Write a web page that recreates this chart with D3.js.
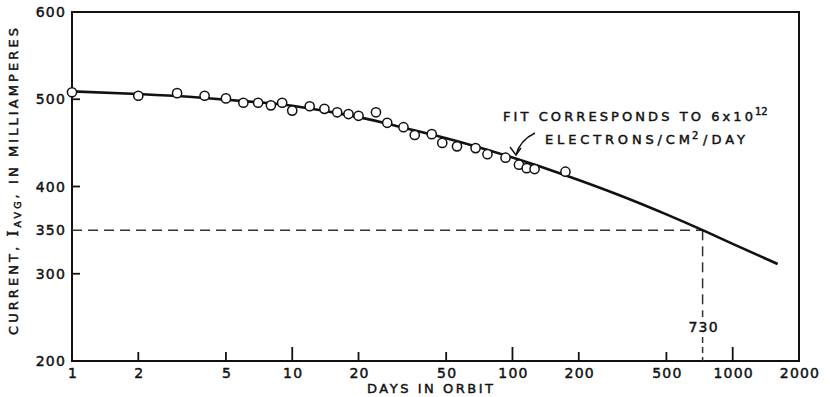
<!DOCTYPE html>
<html>
<head>
<meta charset="utf-8">
<script src="https://cdn.jsdelivr.net/npm/d3@7"></script>
<style>
  html, body { margin: 0; padding: 0; background: #fff; }
  svg { display: block; }
  text { font-family: "DejaVu Sans", sans-serif; fill: #111; stroke: #111; stroke-width: 0.45px; }
</style>
</head>
<body>
<svg id="chart" width="830" height="397"></svg>
<script>
// ---- data ----
const obsDays   = [1,2,3,4,5,6,7,8,9,10,12,14,16,18,20,24,27,32,36,43,48,56,68,77,93,107,116,126,174];
const obsValues = [508,504,507,504,501,496,496,493,496,487,492,489,485,483,481,485,473,468,459,460,450,446,444,437,433,425,421,420,417];
const fitDays   = [1,2,4,7,10,20,30,50,100,175,300,500,730,1000,1600];
const fitValues = [509,506,501.5,496.5,492.5,479.5,469,455.3,433.2,412.7,390.9,368.1,350,334.3,311.2];
const xTickValues = [1,2,5,10,20,50,100,200,500,1000,2000];
const xTickLabels = ["1","2","5","10","20","50","100","200","500","1000","2000"];
const majorX = [10,100,1000];
const yTickValues = [200,300,350,400,500,600];
const yTickLabels = ["200","300","350","400","500","600"];
const markDay = 730, markValue = 350;

const svg = d3.select("#chart");
const x = d3.scaleLog().domain([1, 2000]).range([72, 799]);
const y = d3.scaleLinear().domain([200, 600]).range([361, 12]);

const ink = "#111";

// frame
svg.append("path")
  .attr("d", `M${x(1)},${y(600)} V${y(200)} H${x(2000)} V${y(600)} Z`)
  .attr("fill", "none").attr("stroke", ink).attr("stroke-width", 2);

// x ticks (inward)
svg.append("g").selectAll("line").data(xTickValues.filter(d => d > 1 && d < 2000)).join("line")
  .attr("x1", d => x(d)).attr("x2", d => x(d))
  .attr("y1", y(200)).attr("y2", d => y(200) - (majorX.includes(d) ? 14 : 9))
  .attr("stroke", ink).attr("stroke-width", 1.8);

// y ticks (inward)
svg.append("g").selectAll("line").data([300, 400, 500]).join("line")
  .attr("x1", x(1)).attr("x2", x(1) + 8)
  .attr("y1", d => y(d)).attr("y2", d => y(d))
  .attr("stroke", ink).attr("stroke-width", 1.8);

// x tick labels
svg.append("g").selectAll("text").data(xTickValues).join("text")
  .attr("x", d => x(d) + 1).attr("y", 378)
  .attr("text-anchor", "middle")
  .attr("font-size", 14).attr("letter-spacing", 1.2)
  .text((d, i) => xTickLabels[i]);

// y tick labels
svg.append("g").selectAll("text").data(yTickValues).join("text")
  .attr("x", 66).attr("y", d => y(d) + 5)
  .attr("text-anchor", "end")
  .attr("font-size", 14).attr("letter-spacing", 1.2)
  .text((d, i) => yTickLabels[i]);

// dashed reference lines
const dash = "10,6";
svg.append("line")
  .attr("x1", x(1)).attr("x2", x(markDay))
  .attr("y1", y(markValue)).attr("y2", y(markValue))
  .attr("stroke", "#333").attr("stroke-width", 1.5).attr("stroke-dasharray", dash);
svg.append("line")
  .attr("x1", x(markDay)).attr("x2", x(markDay))
  .attr("y1", y(markValue)).attr("y2", 317)
  .attr("stroke", "#333").attr("stroke-width", 1.5).attr("stroke-dasharray", dash);
svg.append("line")
  .attr("x1", x(markDay)).attr("x2", x(markDay))
  .attr("y1", 337).attr("y2", y(200))
  .attr("stroke", "#333").attr("stroke-width", 1.5).attr("stroke-dasharray", "6,4");
svg.append("text")
  .attr("x", x(markDay) + 1).attr("y", 332)
  .attr("text-anchor", "middle")
  .attr("font-size", 14).attr("letter-spacing", 1.2)
  .text(String(markDay));

// fit curve
const line = d3.line().x(d => x(d[0])).y(d => y(d[1])).curve(d3.curveNatural);
svg.append("path")
  .datum(fitDays.map((d, i) => [d, fitValues[i]]))
  .attr("d", line)
  .attr("fill", "none").attr("stroke", ink).attr("stroke-width", 2.6);

// observed points
svg.append("g").selectAll("circle").data(obsDays.map((d, i) => [d, obsValues[i]])).join("circle")
  .attr("cx", d => x(d[0])).attr("cy", d => y(d[1]))
  .attr("r", 4.6)
  .attr("fill", "#fff").attr("stroke", ink).attr("stroke-width", 1.5);

// annotation
svg.append("text")
  .attr("x", 503).attr("y", 121)
  .attr("font-size", 13)
  .attr("textLength", 250).attr("lengthAdjust", "spacing")
  .text("FIT CORRESPONDS TO 6x10");
svg.append("text")
  .attr("x", 755).attr("y", 115)
  .attr("font-size", 10)
  .text("12");
svg.append("text")
  .attr("x", 545).attr("y", 144)
  .attr("font-size", 13)
  .attr("textLength", 145).attr("lengthAdjust", "spacing")
  .text("ELECTRONS/CM");
svg.append("text")
  .attr("x", 692).attr("y", 139)
  .attr("font-size", 10)
  .text("2");
svg.append("text")
  .attr("x", 703).attr("y", 144)
  .attr("font-size", 13)
  .attr("textLength", 42).attr("lengthAdjust", "spacing")
  .text("/DAY");

// arrow
svg.append("path")
  .attr("d", "M535,133 Q520,140 516,155")
  .attr("fill", "none").attr("stroke", ink).attr("stroke-width", 1.4);
svg.append("path")
  .attr("d", "M510,147 L516,155 L521,148")
  .attr("fill", "none").attr("stroke", ink).attr("stroke-width", 1.4);

// axis titles
svg.append("text")
  .attr("x", 367).attr("y", 393)
  .attr("font-size", 13)
  .attr("textLength", 126).attr("lengthAdjust", "spacing")
  .text("DAYS IN ORBIT");

const yt = svg.append("text")
  .attr("transform", "translate(18,335) rotate(-90)")
  .attr("font-size", 13)
  .attr("textLength", 307).attr("lengthAdjust", "spacing");
yt.append("tspan").text("CURRENT, ");
yt.append("tspan").attr("font-family", "DejaVu Serif").attr("font-size", 15).text("I");
yt.append("tspan").attr("font-size", 9.5).attr("dy", 3).text("AVG");
yt.append("tspan").attr("dy", -3).text(", IN MILLIAMPERES");
</script>
</body>
</html>
